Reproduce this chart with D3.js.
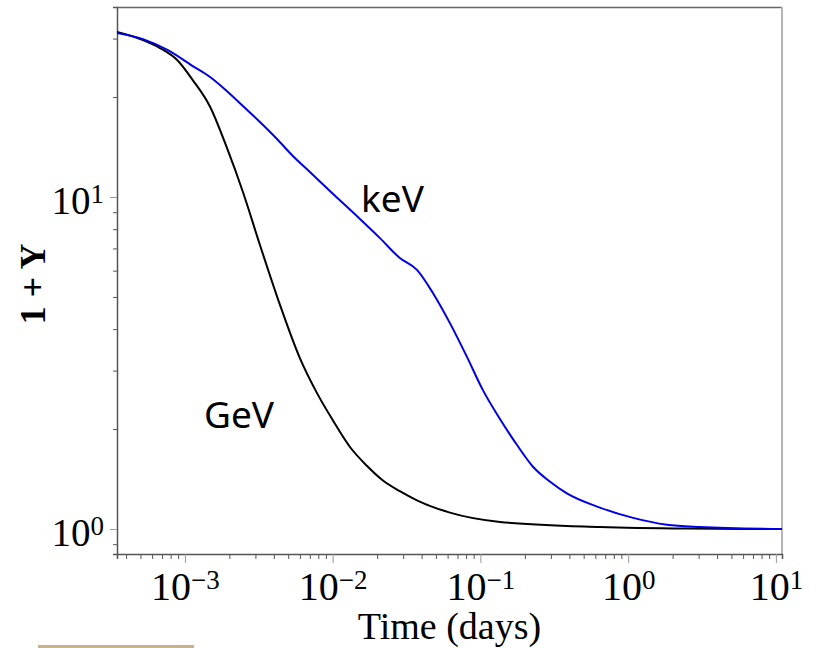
<!DOCTYPE html>
<html>
<head>
<meta charset="utf-8">
<script src="https://cdn.jsdelivr.net/npm/d3@7/dist/d3.min.js"></script>
<style>
  body { margin: 0; background: #fff; }
</style>
</head>
<body>
<svg></svg>
<script>
// values (time in days, 1+Y)
const gevTime = [3.47e-4, 5.2e-4, 6.78e-4, 8.83e-4, 1.13e-3, 1.48e-3, 1.92e-3, 2.47e-3, 3.22e-3, 4.40e-3,
                 6.0e-3, 7.82e-3, 1.0e-2, 1.31e-2, 1.71e-2, 2.19e-2, 2.85e-2, 3.72e-2, 6.22e-2, 0.136,
                 0.644, 2.5, 11];
const gevY    = [31.4, 29.7, 28.1, 25.9, 22.5, 18.7, 14.1, 10.35, 7.17, 4.73,
                 3.27, 2.57, 2.13, 1.766, 1.548, 1.40, 1.30, 1.22, 1.12, 1.05,
                 1.014, 1.003, 1.0];

const kevTime = [3.47e-4, 5.2e-4, 7.67e-4, 1.13e-3, 1.48e-3, 1.92e-3, 2.47e-3, 3.22e-3, 4.20e-3, 5.38e-3,
                 7.02e-3, 9.58e-3, 1.46e-2, 2.09e-2, 2.85e-2, 3.72e-2, 4.77e-2, 6.22e-2, 8.11e-2, 0.104,
                 0.136, 0.177, 0.227, 0.295, 0.385, 0.644, 1.08, 1.83, 3.06, 11];
const kevY    = [31.2, 29.9, 27.7, 24.8, 22.98, 20.86, 18.8, 16.82, 14.95, 13.29,
                 11.89, 10.43, 8.76, 7.52, 6.55, 6.03, 5.14, 4.17, 3.30, 2.62,
                 2.14, 1.79, 1.54, 1.39, 1.28, 1.16, 1.08, 1.03, 1.014, 1.0];

const xTickExps = [-3, -2, -1, 0, 1];
const yTickExps = [0, 1];
const curveNames = ["GeV", "keV"];
const curveColors = ["#000000", "#0000e6"];

const width = 819, height = 648;
const margin = { top: 7, right: 37, bottom: 94, left: 117 };

const svg = d3.select("svg")
    .attr("width", width)
    .attr("height", height);

const x = d3.scaleLog()
    .domain([3.47e-4, 11])
    .range([margin.left, width - margin.right]);

const y = d3.scaleLog()
    .domain([0.8408, 37.35])
    .range([height - margin.bottom, margin.top]);

// minor tick values for each decade
function minorTicks(scale) {
    const [a, b] = scale.domain();
    const out = [];
    for (let e = Math.floor(Math.log10(a)); e <= Math.ceil(Math.log10(b)); e++) {
        for (let m = 2; m <= 9; m++) {
            const v = m * Math.pow(10, e);
            if (v >= a && v <= b) out.push(v);
        }
    }
    return out;
}

const serif = "'Liberation Serif', 'Times New Roman', serif";

// frame
svg.append("line")
    .attr("x1", margin.left).attr("x2", width - margin.right)
    .attr("y1", margin.top + 0.5).attr("y2", margin.top + 0.5)
    .attr("stroke", "#666").attr("stroke-width", 1.5);
svg.append("line")
    .attr("x1", width - margin.right).attr("x2", width - margin.right)
    .attr("y1", margin.top).attr("y2", height - margin.bottom)
    .attr("stroke", "#b5b5b5").attr("stroke-width", 2);

// x axis: minor then major
const xMinor = svg.append("g")
    .attr("transform", `translate(0,${height - margin.bottom})`)
    .call(d3.axisBottom(x).tickValues(minorTicks(x)).tickSize(5).tickFormat(""));
xMinor.select(".domain").attr("stroke", "#555").attr("stroke-width", 1.5);
xMinor.selectAll(".tick line").attr("stroke", "#555");

const xMajor = svg.append("g")
    .attr("transform", `translate(0,${height - margin.bottom})`)
    .call(d3.axisBottom(x).tickValues(xTickExps.map(e => Math.pow(10, e))).tickSize(9).tickPadding(12));
xMajor.select(".domain").remove();
xMajor.selectAll(".tick line").attr("stroke", "#999");
xMajor.selectAll(".tick text")
    .attr("fill", "#000")
    .style("font-family", serif)
    .style("font-size", "40px")
    .attr("dy", "0.63em")
    .text(null)
    .each(function(d) {
        const t = d3.select(this);
        t.append("tspan").text("10");
        t.append("tspan").attr("dy", "-0.42em").style("font-size", "27px")
            .text(String(Math.round(Math.log10(d))).replace("-", "\u2212"));
    });

// y axis
const yMinor = svg.append("g")
    .attr("transform", `translate(${margin.left},0)`)
    .call(d3.axisLeft(y).tickValues(minorTicks(y)).tickSize(4).tickFormat(""));
yMinor.select(".domain").attr("stroke", "#555").attr("stroke-width", 1.5);
yMinor.selectAll(".tick line").attr("stroke", "#555");

const yMajor = svg.append("g")
    .attr("transform", `translate(${margin.left},0)`)
    .call(d3.axisLeft(y).tickValues(yTickExps.map(e => Math.pow(10, e))).tickSize(7).tickPadding(6));
yMajor.select(".domain").remove();
yMajor.selectAll(".tick line").attr("stroke", "#999");
yMajor.selectAll(".tick text")
    .attr("fill", "#000")
    .style("font-family", serif)
    .style("font-size", "39px")
    .attr("dy", "0.42em")
    .text(null)
    .each(function(d) {
        const t = d3.select(this);
        t.append("tspan").text("10");
        t.append("tspan").attr("dy", "-0.42em").style("font-size", "27px")
            .text(String(Math.round(Math.log10(d))));
    });

// curves
svg.append("clipPath").attr("id", "plot-clip")
    .append("rect")
    .attr("x", margin.left).attr("y", margin.top)
    .attr("width", width - margin.right - margin.left)
    .attr("height", height - margin.bottom - margin.top);

const line = d3.line()
    .x(d => x(d[0]))
    .y(d => y(d[1]))
    .curve(d3.curveMonotoneX);

const series = [
    { name: curveNames[0], pts: d3.zip(gevTime, gevY) },
    { name: curveNames[1], pts: d3.zip(kevTime, kevY) }
];

svg.append("g")
    .attr("clip-path", "url(#plot-clip)")
    .selectAll("path")
    .data(series)
    .enter()
    .append("path")
    .attr("d", d => line(d.pts))
    .attr("fill", "none")
    .attr("stroke", (d, i) => curveColors[i])
    .attr("stroke-width", 2);

// curve labels
svg.append("text")
    .attr("x", 361).attr("y", 212)
    .style("font-family", "'Noto Sans', 'Open Sans', sans-serif")
    .style("font-size", "37px")
    .text("keV");
svg.append("text")
    .attr("x", 204).attr("y", 428)
    .style("font-family", "'Noto Sans', 'Open Sans', sans-serif")
    .style("font-size", "37px")
    .text("GeV");

// axis titles
svg.append("text")
    .attr("x", (margin.left + width - margin.right) / 2)
    .attr("y", 639)
    .attr("text-anchor", "middle")
    .style("font-family", serif)
    .style("font-size", "38px")
    .text("Time (days)");

svg.append("text")
    .attr("transform", "translate(45,284) rotate(-90)")
    .attr("text-anchor", "middle")
    .style("font-family", serif)
    .style("font-size", "36px")
    .style("font-weight", "bold")
    .text("1 + Y");

// tan strip at bottom left
svg.append("rect")
    .attr("x", 38).attr("y", 645)
    .attr("width", 156).attr("height", 3)
    .attr("fill", "#c8b18b");
</script>
</body>
</html>
